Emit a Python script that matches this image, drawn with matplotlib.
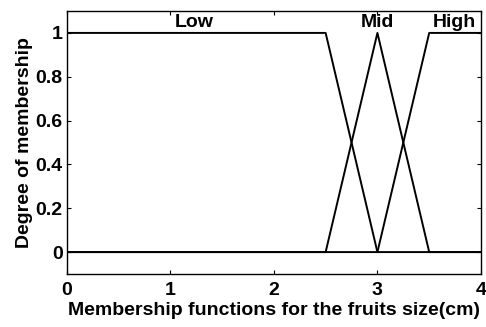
import numpy as np
import matplotlib
matplotlib.use("Agg")
import matplotlib.pyplot as plt

# membership functions for fruit size (cm)
names = ["Low", "Mid", "High"]
low_pts = [0, 0, 2.5, 3.0]      # trapezoid
mid_pts = [2.5, 3.0, 3.5]       # triangle
high_pts = [3.0, 3.5, 4.0, 4.0] # trapezoid
label_x = [1.23, 3.0, 3.745]

x_ticks = [0, 1, 2, 3, 4]
y_ticks = [0, 0.2, 0.4, 0.6, 0.8, 1]


def trapmf(x, p):
    a, b, c, d = p
    y = np.ones_like(x)
    if b > a:
        y = np.minimum(y, (x - a) / (b - a))
    if d > c:
        y = np.minimum(y, (d - x) / (d - c))
    return np.clip(y, 0, 1)


def trimf(x, p):
    a, b, c = p
    return np.clip(np.minimum((x - a) / (b - a), (c - x) / (c - b)), 0, 1)


plt.rcParams['font.family'] = ['Liberation Sans', 'DejaVu Sans']
plt.rcParams['font.weight'] = 'bold'

fig = plt.figure(figsize=(4.86, 3.27), dpi=100)
ax = fig.add_axes([66.7 / 486, 53 / 327, (481 - 66.7) / 486, (274 - 11) / 327])

xs = np.linspace(0, 4, 801)
for ys in (trapmf(xs, low_pts), trimf(xs, mid_pts), trapmf(xs, high_pts)):
    ax.plot(xs, ys, color='black', lw=1.4)

for n, lx in zip(names, label_x):
    ax.text(lx, 1.049, n, ha='center', va='center', fontsize=14, fontweight='bold')

ax.set_xlim(0, 4)
ax.set_ylim(-0.1, 1.1)
ax.set_xticks(x_ticks)
ax.set_yticks(y_ticks)
ax.set_xticklabels([str(t) for t in x_ticks])
ax.set_yticklabels(["0", "0.2", "0.4", "0.6", "0.8", "1"])
ax.tick_params(direction='in', length=3, width=0.8, top=True, right=True,
               labelsize=14)
ax.tick_params(axis='x', pad=6)
ax.tick_params(axis='y', pad=3)
for s in ax.spines.values():
    s.set_linewidth(1.0)

ax.set_xlabel("Membership functions for the fruits size(cm)", fontsize=14,
              fontweight='bold', labelpad=2)
ax.set_ylabel("Degree of membership", fontsize=14, fontweight='bold', labelpad=2)

fig.savefig("out.png", dpi=100)
